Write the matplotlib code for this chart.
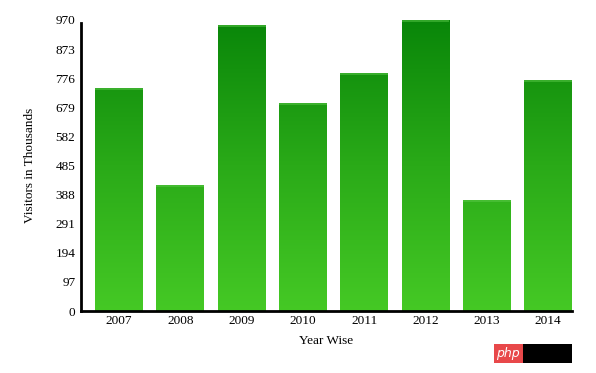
import numpy as np
import matplotlib
matplotlib.use("Agg")
import matplotlib.pyplot as plt
from matplotlib.colors import LinearSegmentedColormap
from matplotlib.patches import Rectangle

years = ["2007", "2008", "2009", "2010", "2011", "2012", "2013", "2014"]
visitors = [745, 420, 953, 695, 795, 970, 370, 769]
y_ticks = [0, 97, 194, 291, 388, 485, 582, 679, 776, 873, 970]

plt.rcParams["font.family"] = ["Liberation Serif", "DejaVu Serif"]

W, H = 596, 373
fig = plt.figure(figsize=(W / 100, H / 100), dpi=100)
ax = fig.add_axes([81 / W, (H - 311) / H, (572 - 81) / W, (311 - 20) / H])

ymax = 970
x = np.arange(len(years))
xlo, xhi = -0.62, len(years) - 0.61
bars = ax.bar(x, visitors, width=0.78, color="none", edgecolor="none")

# vertical gradient by absolute height: dark green at top, light green at bottom
cmap = LinearSegmentedColormap.from_list("g", ["#45c925", "#2aaa18", "#098609"])
grad = np.linspace(0, 1, 256).reshape(-1, 1)
for b in bars:
    im = ax.imshow(grad, cmap=cmap, aspect="auto", origin="lower",
                   extent=[xlo, xhi, 0, ymax], zorder=2)
    im.set_clip_path(b)
    # light highlight strip at the top edge
    ax.add_patch(Rectangle((b.get_x(), b.get_height() - 7), b.get_width(), 7,
                           facecolor="#5cc94a", alpha=0.5, edgecolor="none", zorder=3))

ax.set_xlim(xlo, xhi)
ax.set_ylim(0, ymax)
ax.set_xticks(x)
ax.set_xticklabels(years)
ax.set_yticks(y_ticks)
ax.tick_params(length=0, labelsize=9.5, pad=3)
ax.tick_params(axis="y", pad=4)

for side in ["top", "right"]:
    ax.spines[side].set_visible(False)
for side in ["left", "bottom"]:
    ax.spines[side].set_linewidth(2)
ax.spines["left"].set_bounds(0, 960)

ax.set_ylabel("Visitors in Thousands", fontsize=9.5, labelpad=14)
ax.set_xlabel("Year Wise", fontsize=9.5, labelpad=6)

# watermark box in the lower right corner
fig.patches.append(Rectangle((494 / W, (H - 363) / H), 29 / W, 19 / H,
                             transform=fig.transFigure, facecolor="#e8484a",
                             edgecolor="none"))
fig.patches.append(Rectangle((523 / W, (H - 363) / H), 49 / W, 19 / H,
                             transform=fig.transFigure, facecolor="black",
                             edgecolor="none"))
fig.text(508 / W, (H - 353) / H, "php", color="white", fontsize=9, style="italic",
         family="DejaVu Sans", ha="center", va="center")

fig.savefig("out.png", dpi=100)
